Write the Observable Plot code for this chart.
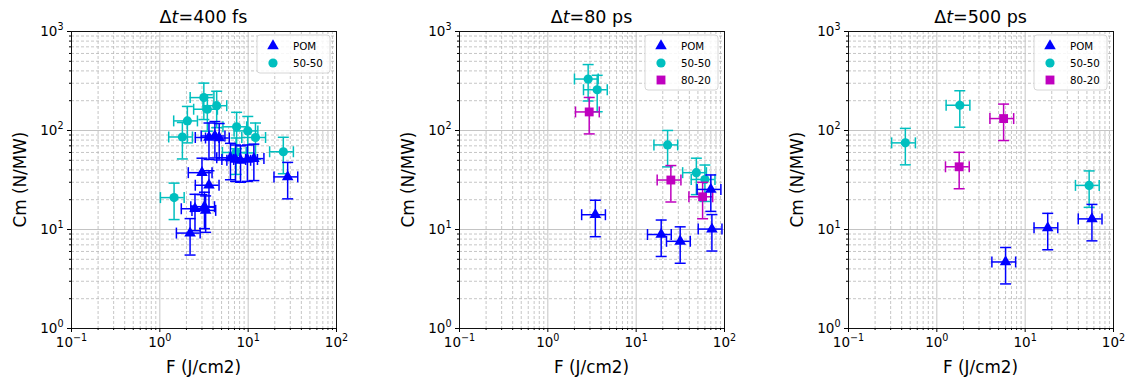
<!DOCTYPE html>
<html><head><meta charset="utf-8">
<script src="https://cdn.jsdelivr.net/npm/d3@7"></script>
<script src="https://cdn.jsdelivr.net/npm/@observablehq/plot@0.6"></script>
<style>
body{margin:0;background:#fff;font-family:"DejaVu Sans",sans-serif;}
#wrap{position:relative;width:1129px;height:381px;overflow:hidden;}
.panel{position:absolute;top:0;width:377px;height:381px;}
.panel svg{max-width:none !important;}
</style>
</head><body><div id="wrap"></div>
<script>
// ---- data ----
const panelTitles = ["400 fs", "80 ps", "500 ps"];
const seriesNames = ["POM", "50-50", "80-20"];
const seriesColors = ["#0000ff", "#00bfbf", "#bf00bf"];
const seriesSymbols = ["triangle", "circle", "square"];
const relErrF = 0.30;   // relative uncertainty on F
const relErrCm = 0.40;  // relative uncertainty on Cm

// Δt = 400 fs
const pom400F  = [3.6, 4.2, 4.7, 6.3, 7.2, 8.2, 9.8, 11.6, 3.0, 3.6, 2.5, 3.3, 3.2, 2.2, 28];
const pom400Cm = [85, 88, 84, 53, 51, 50, 51, 52, 37.5, 28, 16.2, 15.6, 17, 9.2, 34];
const mix5050_400F  = [3.15, 4.4, 3.45, 2.05, 1.8, 7.4, 9.9, 12.1, 25, 1.45, 7.3];
const mix5050_400Cm = [215, 178, 164, 125, 86, 109, 99, 85, 61, 21, 60];

// Δt = 80 ps
const pom80F  = [3.45, 19.2, 31.5, 70, 72];
const pom80Cm = [14.1, 8.9, 7.6, 25.4, 10.1];
const mix5050_80F  = [2.86, 3.62, 22.7, 48, 60];
const mix5050_80Cm = [331, 258, 71.5, 37.5, 32];
const mix8020_80F  = [2.94, 24.7, 56.5];
const mix8020_80Cm = [154, 31.6, 21.4];

// Δt = 500 ps
const pom500F  = [6.0, 18, 57];
const pom500Cm = [4.7, 10.4, 12.8];
const mix5050_500F  = [0.44, 1.82, 53];
const mix5050_500Cm = [75, 180, 27.9];
const mix8020_500F  = [5.7, 1.79];
const mix8020_500Cm = [132, 43];

// tick values
const majorX = [0.1, 1, 10, 100];
const majorY = [1, 10, 100, 1000];
const expLabels = new Map([[0.1,"−1"],[1,"0"],[10,"1"],[100,"2"],[1000,"3"]]);

const panels = [
  [[pom400F, pom400Cm], [mix5050_400F, mix5050_400Cm]],
  [[pom80F, pom80Cm], [mix5050_80F, mix5050_80Cm], [mix8020_80F, mix8020_80Cm]],
  [[pom500F, pom500Cm], [mix5050_500F, mix5050_500Cm], [mix8020_500F, mix8020_500Cm]]
];

function minorTicks(majors) {
  const out = [];
  for (let i = 0; i < majors.length - 1; i++)
    for (let m = 2; m <= 9; m++) out.push(+(majors[i] * m).toPrecision(3));
  return out;
}
const minorX = minorTicks(majorX);
const minorY = minorTicks(majorY);

const vbar = {draw(ctx, size){ const r = Math.sqrt(size/Math.PI); ctx.moveTo(0,-r); ctx.lineTo(0,r); }};
const hbar = {draw(ctx, size){ const r = Math.sqrt(size/Math.PI); ctx.moveTo(-r,0); ctx.lineTo(r,0); }};
const markerR = {triangle: 4.3, circle: 4.6, square: 5.0};

const W = 377, H = 381, ML = 71, MR = 41, MT = 31, MB = 53;
const lefts = [0, 388, 777];
const wrap = document.getElementById("wrap");

panels.forEach((series, pi) => {
  const marks = [
    Plot.ruleX(minorX, {stroke: "#b8b8b8", strokeWidth: 0.8, strokeDasharray: "3,2"}),
    Plot.ruleY(minorY, {stroke: "#b8b8b8", strokeWidth: 0.8, strokeDasharray: "3,2"}),
    Plot.ruleX(majorX, {stroke: "#c4c4c4", strokeWidth: 1}),
    Plot.ruleY(majorY, {stroke: "#c4c4c4", strokeWidth: 1})
  ];
  // draw order: 50-50, 80-20 then POM on top
  const order = series.map((s, i) => i).slice(1).concat([0]);
  order.forEach(si => {
    const [F, Cm] = series[si];
    const rows = F.map((f, k) => ({F: f, Cm: Cm[k]}));
    const color = seriesColors[si];
    marks.push(
      Plot.ruleY(rows, {y: "Cm", x1: d => d.F * (1 - relErrF), x2: d => d.F * (1 + relErrF), stroke: color, strokeWidth: 1.5}),
      Plot.ruleX(rows, {x: "F", y1: d => d.Cm * (1 - relErrCm), y2: d => d.Cm * (1 + relErrCm), stroke: color, strokeWidth: 1.5}),
      Plot.dot(rows, {x: d => d.F * (1 - relErrF), y: "Cm", symbol: vbar, r: 5.5, stroke: color, strokeWidth: 1.5, fill: "none"}),
      Plot.dot(rows, {x: d => d.F * (1 + relErrF), y: "Cm", symbol: vbar, r: 5.5, stroke: color, strokeWidth: 1.5, fill: "none"}),
      Plot.dot(rows, {x: "F", y: d => d.Cm * (1 - relErrCm), symbol: hbar, r: 5.5, stroke: color, strokeWidth: 1.5, fill: "none"}),
      Plot.dot(rows, {x: "F", y: d => d.Cm * (1 + relErrCm), symbol: hbar, r: 5.5, stroke: color, strokeWidth: 1.5, fill: "none"}),
      Plot.dot(rows, {x: "F", y: "Cm", symbol: seriesSymbols[si], r: markerR[seriesSymbols[si]], fill: color, stroke: "none"})
    );
  });
  marks.push(
    Plot.frame({stroke: "#111", strokeWidth: 1}),
    Plot.axisX(majorX, {tickSize: 4, tickPadding: 5, tickFormat: d => "10^" + expLabels.get(d), label: null, fontSize: 13.5}),
    Plot.axisX(minorX, {tickSize: 2, tickFormat: () => "", label: null}),
    Plot.axisY(majorY, {tickSize: 4, tickPadding: 4, tickFormat: d => "10^" + expLabels.get(d), label: null, fontSize: 13.5}),
    Plot.axisY(minorY, {tickSize: 2, tickFormat: () => "", label: null})
  );
  const svg = Plot.plot({
    width: W, height: H, marginLeft: ML, marginRight: MR, marginTop: MT, marginBottom: MB,
    x: {type: "log", domain: [0.1, 100]},
    y: {type: "log", domain: [1, 1000]},
    style: {fontFamily: "DejaVu Sans", fontSize: "13.5px", color: "black", background: "white", overflow: "visible", maxWidth: "none"},
    marks
  });
  const s = d3.select(svg);
  // superscript exponents on tick labels
  s.selectAll("text").each(function() {
    const txt = this.textContent;
    if (!txt.includes("^")) return;
    const [base, ex] = txt.split("^");
    const el = d3.select(this);
    el.text(null);
    el.append("tspan").text(base);
    el.append("tspan").attr("font-size", 9.6).attr("dy", -6).text(ex);
  });
  // title
  const t = s.append("text").attr("x", ML + (W - ML - MR) / 2).attr("y", 23)
    .attr("text-anchor", "middle").attr("font-size", 17.5).attr("fill", "black");
  t.append("tspan").text("Δ");
  t.append("tspan").attr("font-style", "italic").text("t");
  t.append("tspan").text("=" + panelTitles[pi]);
  // axis labels
  s.append("text").attr("x", ML + (W - ML - MR) / 2).attr("y", 373)
    .attr("text-anchor", "middle").attr("font-size", 16.8).attr("fill", "black").text("F (J/cm2)");
  s.append("text").attr("transform", `translate(26,${(MT + H - MB) / 2}) rotate(-90)`)
    .attr("text-anchor", "middle").attr("font-size", 16.8).attr("fill", "black").text("Cm (N/MW)");
  // legend
  const n = series.length;
  const bx = W - MR - 6 - 73, by = MT + 4, bw = 73, bh = 4 + 17 * n;
  const g = s.append("g").attr("text-anchor", "start");
  g.append("rect").attr("x", bx).attr("y", by).attr("width", bw).attr("height", bh)
    .attr("rx", 3).attr("fill", "white").attr("fill-opacity", 0.85).attr("stroke", "#d6d6d6");
  for (let i = 0; i < n; i++) {
    const cy = by + 11 + 17 * i;
    const sym = {triangle: d3.symbolTriangle, circle: d3.symbolCircle, square: d3.symbolSquare}[seriesSymbols[i]];
    const r = markerR[seriesSymbols[i]];
    g.append("path").attr("d", d3.symbol(sym, Math.PI * r * r)()).attr("transform", `translate(${bx + 16},${cy})`)
      .attr("fill", seriesColors[i]);
    g.append("text").attr("x", bx + 36).attr("y", cy).attr("dy", "0.35em").attr("font-size", 10.3)
      .attr("text-anchor", "start").attr("fill", "black").text(seriesNames[i]);
  }
  const div = document.createElement("div");
  div.className = "panel";
  div.style.left = lefts[pi] + "px";
  div.appendChild(svg);
  wrap.appendChild(div);
});
</script>
</body></html>
